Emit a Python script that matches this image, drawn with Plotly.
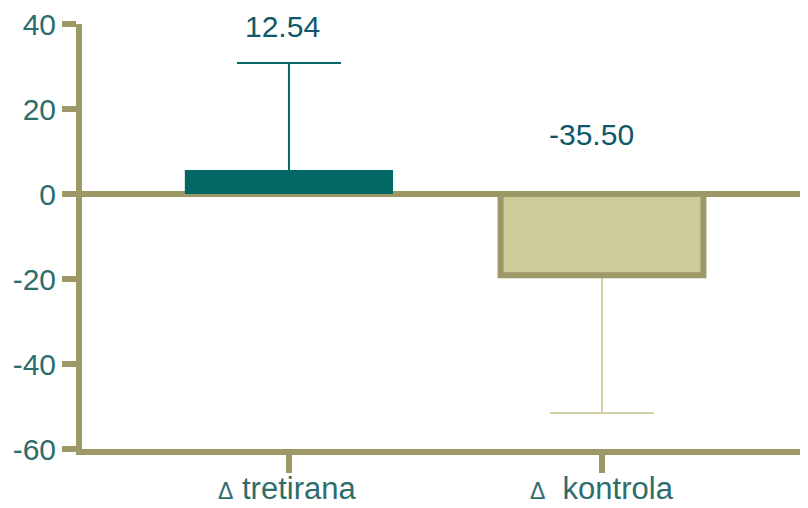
import plotly.graph_objects as go

categories = ["Δ tretirana", "Δ kontrola"]
values = [5.65, -19.1]
err_plus = [25.2, 0]
err_minus = [0, 32.4]
labels = ["12.54", "-35.50"]
label_y = [40, 13.9]
y_ticks = [-60, -40, -20, 0, 20, 40]
y_ticktext = ["-60", "-40", "-20", "0", "20", "40"]
x_label_html = ["<span style='font-size:23px'>Δ</span> tretirana",
                "<span style='font-size:23px'>Δ</span>\u00a0\u00a0kontrola"]

OLIVE = "#9C9966"
TEAL = "#026863"
KHAKI = "#CCCB99"
ERR2 = "#D3D2A6"
TXT = "#2F6C6C"
ANN = "#0E5868"
FONT = "Liberation Sans, Arial"

fig = go.Figure()
# error bars first (transparent carrier bars); the inner cap is hidden under the visible bar
for i, col in enumerate([TEAL, ERR2]):
    fig.add_trace(go.Bar(
        x=[categories[i]], y=[values[i]], width=0.65,
        marker=dict(color="rgba(0,0,0,0)", line=dict(width=0)),
        error_y=dict(type="data", symmetric=False,
                     array=[err_plus[i] if err_plus[i] else 0.4],
                     arrayminus=[err_minus[i] if err_minus[i] else 0.4],
                     color=col, thickness=2, width=52),
        hoverinfo="skip",
    ))
fig.add_trace(go.Bar(
    x=[categories[0]], y=[values[0]], width=0.665,
    marker=dict(color=TEAL, line=dict(width=0)),
))
fig.add_trace(go.Bar(
    x=[categories[1]], y=[values[1]], width=0.648,
    marker=dict(color=KHAKI, line=dict(width=6, color=OLIVE)),
))
for c, t, yy, xs, ys in zip(categories, labels, label_y, [-6, -11], [-2, 0]):
    fig.add_annotation(x=c, y=yy, text=t, showarrow=False, xshift=xs, yshift=ys,
                       font=dict(family=FONT, size=30, color=ANN))
for c, t, xs in zip(categories, x_label_html, [-2, 0]):
    fig.add_annotation(x=c, y=0, yref="paper", yanchor="bottom", yshift=-59, xshift=xs,
                       height=30, valign="bottom",
                       text=t, showarrow=False,
                       font=dict(family=FONT, size=31, color=TXT))

fig.update_layout(
    width=800, height=500, showlegend=False, barmode="overlay",
    margin=dict(l=74, r=0, t=16, b=59, autoexpand=False),
    plot_bgcolor="white", paper_bgcolor="white",
    font=dict(family=FONT, size=30, color=TXT),
    xaxis=dict(range=[-0.661, 1.658], showline=True, linecolor=OLIVE, linewidth=6,
               ticks="outside", ticklen=18, tickwidth=6, tickcolor=OLIVE,
               showticklabels=False, automargin=False,
               showgrid=False, zeroline=False),
    yaxis=dict(range=[-60, 40], tickvals=y_ticks, ticktext=y_ticktext,
               showline=True, linecolor=OLIVE, linewidth=6,
               ticks="outside", ticklen=14, tickwidth=6, tickcolor=OLIVE,
               automargin=False, ticklabeloverflow="allow",
               showgrid=False, zeroline=True, zerolinecolor=OLIVE, zerolinewidth=6,
               tickfont=dict(size=30, color=TXT)),
)
fig.write_html("out.html")
